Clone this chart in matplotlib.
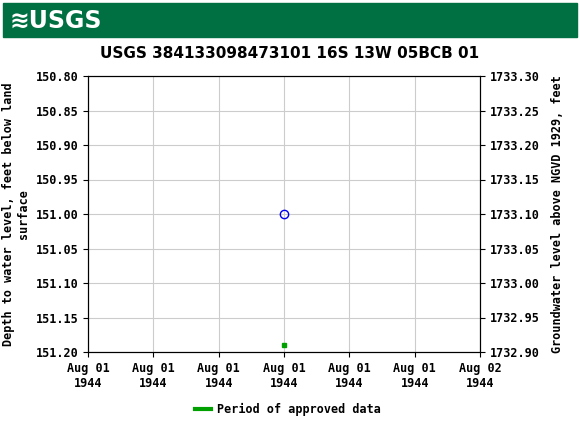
import matplotlib
matplotlib.use("Agg")
import matplotlib.pyplot as plt
from matplotlib.patches import Rectangle

# data
x_ticks = [0, 4, 8, 12, 16, 20, 24]  # hours from Aug 01 1944
x_labels = ["Aug 01\n1944"] * 6 + ["Aug 02\n1944"]
y_ticks = [150.80, 150.85, 150.90, 150.95, 151.00, 151.05, 151.10, 151.15, 151.20]
obs_x = [12]
obs_depth = [151.00]
approved_x = [12]
approved_depth = [151.19]
datum = 1884.10  # elevation = datum - depth

fig = plt.figure(figsize=(5.8, 4.3), dpi=100)
mono = "DejaVu Sans Mono"

# header bar
fig.patches.append(Rectangle((3 / 580, 1 - 37 / 430), 574 / 580, 34 / 430,
                             transform=fig.transFigure, color="#006F41"))
fig.text(10 / 580, 1 - 21 / 430, "≋USGS", color="white", fontsize=17,
         fontweight="bold", va="center")

fig.text(0.5, 1 - 53 / 430, "USGS 384133098473101 16S 13W 05BCB 01",
         ha="center", va="center", fontsize=11, fontweight="bold",
         fontfamily="Liberation Sans Narrow")

ax = fig.add_axes([88 / 580, 1 - 352 / 430, 392 / 580, 276 / 430])
ax.set_xlim(0, 24)
ax.set_ylim(151.20, 150.80)
ax.set_xticks(x_ticks)
ax.set_xticklabels(x_labels, fontfamily=mono, fontsize=8.5, fontweight="bold")
ax.set_yticks(y_ticks)
ax.set_yticklabels([f"{v:.2f}" for v in y_ticks], fontfamily=mono, fontsize=8.5,
                   fontweight="bold")
ax.grid(color="#cccccc", lw=0.8)
ax.set_axisbelow(True)
ax.set_ylabel("Depth to water level, feet below land\nsurface",
              fontfamily=mono, fontsize=8.5, fontweight="bold")

ax.plot(obs_x, obs_depth, "o", mfc="none", mec="#0000ee", ms=6, mew=1)
ax.plot(approved_x, approved_depth, "s", color="#00A000", ms=3)

ax2 = ax.twinx()
ax2.set_ylim(datum - 151.20, datum - 150.80)
ax2.set_yticks([datum - v for v in y_ticks])
ax2.set_yticklabels([f"{datum - v:.2f}" for v in y_ticks], fontfamily=mono,
                    fontsize=8.5, fontweight="bold")
ax2.set_ylabel("Groundwater level above NGVD 1929, feet",
               fontfamily=mono, fontsize=8.5, fontweight="bold", labelpad=8)

fig.lines.append(plt.Line2D([195 / 580, 211 / 580], [1 - 409 / 430] * 2,
                            transform=fig.transFigure, color="#00A000", lw=3))
fig.text(217 / 580, 1 - 409 / 430, "Period of approved data",
         fontfamily=mono, fontsize=8.5, fontweight="bold", va="center")

fig.savefig("out.png", dpi=100)
